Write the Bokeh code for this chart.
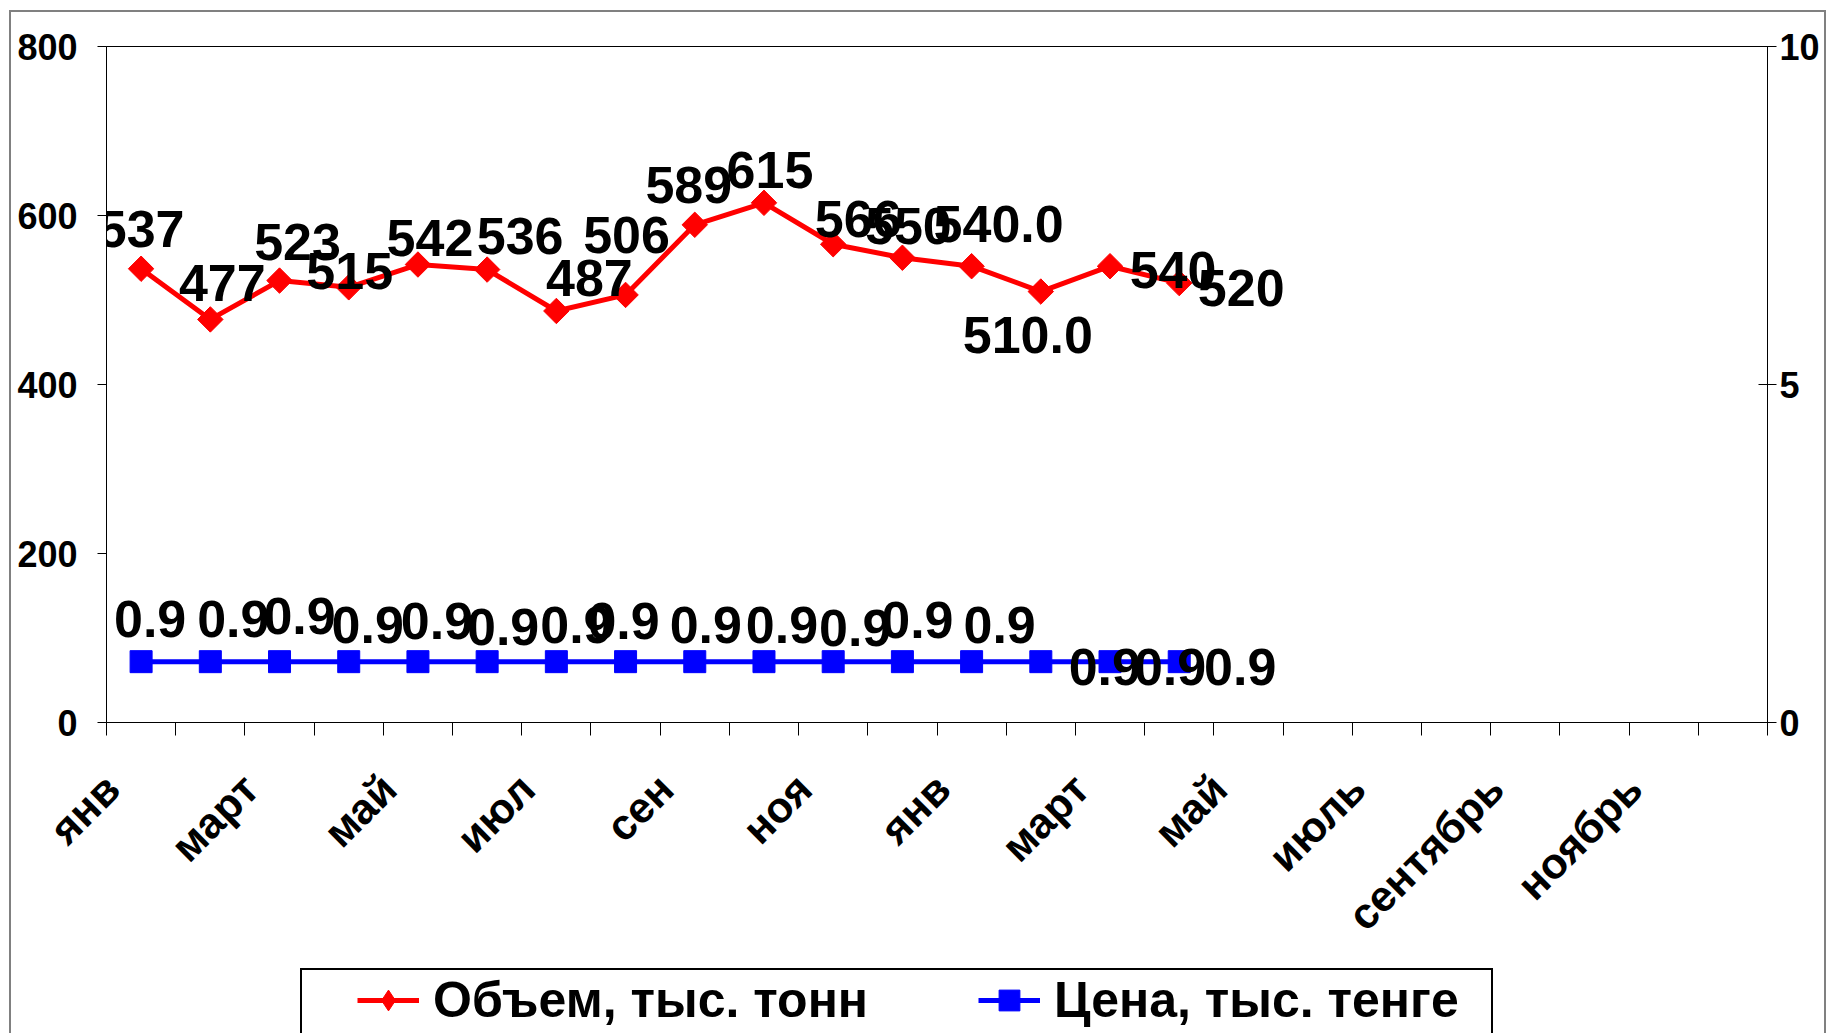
import math
from bokeh.plotting import figure
from bokeh.layouts import column
from bokeh.models import (LinearAxis, Range1d, FixedTicker, Legend, LegendItem,
                          ColumnDataSource)
from bokeh.core.properties import value
from bokeh.embed import file_html
from bokeh.resources import INLINE

# ---------------- data ----------------
tick_labels = ["янв", "март", "май", "июл", "сен", "ноя",
               "янв", "март", "май", "июль", "сентябрь", "ноябрь"]
n_categories = 24
volume = [537, 477, 523, 515, 542, 536, 487, 506, 589, 615, 566, 550, 540, 510, 540, 520]
volume_text = ["537", "477", "523", "515", "542", "536", "487", "506", "589", "615",
               "566", "550", "540.0", "510.0", "540", "520"]
price = [0.9, 0.9, 0.9, 0.9, 0.9, 0.9, 0.9, 0.9, 0.9, 0.9, 0.9, 0.9, 0.9, 0.9, 0.9, 0.9]
price_text = ["0.9", "0.9", "0.9", "0.9", "0.9", "0.9", "0.9", "0.9", "0.9", "0.9",
              "0.9", "0.9", "0.9", "0.9", "0.9", "0.9"]
left_ticks = [0, 200, 400, 600, 800]
right_ticks = [0, 5, 10]
series_names = ["Объем, тыс. тонн", "Цена, тыс. тенге"]

# ---------------- label placement (px) ----------------
vol_dx = [0, 12, 18, 1, 12, 33, 33, 1, -6, 6, 25, 6, 27, -13, 63, 62]
vol_dy = [-40, -36, -39, -16, -27, -34, -33, -60, -40, -33, -25, -32, -42, 43, 4, 5]
pr_dx = [9, 23, 20, 19, 19, 16, 20, -2, 11, 18, 22, 15, 28, 64, 60, 61]
pr_dy = [-43, -43, -46, -37, -41, -35, -37, -41, -37, -37, -34, -42, -37, 5, 5, 5]

FONT = "Liberation Sans"
RED = "#FF0000"
BLUE = "#0000FF"

W = 1835
H1, H2 = 965, 68

p = figure(width=W, height=H1, output_backend="svg", toolbar_location=None,
           x_range=Range1d(-0.5, n_categories - 0.5), y_range=Range1d(0, 800),
           x_axis_type=None, y_axis_type=None,
           min_border_left=106, min_border_right=68, min_border_top=46, min_border_bottom=243)
p.extra_y_ranges = {"price": Range1d(0, 10)}
p.outline_line_color = "black"
p.outline_line_width = 1
p.background_fill_color = "white"
p.border_fill_alpha = 0

# axes
yl = LinearAxis(ticker=FixedTicker(ticks=left_ticks))
yl.major_tick_out = 9
yl.major_tick_in = 0
yl.minor_tick_out = 0
yl.major_label_standoff = 20
yl.major_label_text_font = FONT
yl.major_label_text_font_style = "bold"
yl.major_label_text_font_size = "36px"
yl.major_label_text_color = "black"
yl.axis_line_color = "black"
p.add_layout(yl, "left")

yr = LinearAxis(y_range_name="price", ticker=FixedTicker(ticks=right_ticks))
yr.major_tick_out = 9
yr.major_tick_in = 9
yr.minor_tick_out = 0
yr.major_label_standoff = 3
yr.major_label_text_font = FONT
yr.major_label_text_font_style = "bold"
yr.major_label_text_font_size = "36px"
yr.major_label_text_color = "black"
yr.axis_line_color = "black"
p.add_layout(yr, "right")

label_shift = -0.42  # rotated labels end slightly left of category centre
label_pos = [i + label_shift for i in range(0, n_categories, 2)]
xb = LinearAxis(ticker=FixedTicker(ticks=label_pos,
                                   minor_ticks=[i - 0.5 for i in range(n_categories + 1)]))
xb.major_label_overrides = {pos: lab for pos, lab in zip(label_pos, tick_labels)}
xb.major_tick_out = 0
xb.major_tick_in = 0
xb.minor_tick_out = 13
xb.minor_tick_in = 0
xb.major_label_orientation = math.pi / 4
xb.major_label_standoff = 46
xb.major_label_text_font = FONT
xb.major_label_text_font_style = "bold"
xb.major_label_text_font_size = "43px"
xb.major_label_text_color = "black"
xb.axis_line_color = "black"
p.add_layout(xb, "below")

x_idx = list(range(len(volume)))
src_v = ColumnDataSource(dict(x=x_idx, y=volume, t=volume_text, dx=vol_dx, dy=vol_dy))
src_p = ColumnDataSource(dict(x=x_idx, y=price, t=price_text, dx=pr_dx, dy=pr_dy))

red_line = dict(line_color=RED, line_width=5)
red_mark = dict(marker="square", angle=math.pi / 4, size=18, fill_color=RED, line_color=RED)
red_key = dict(marker="diamond", size=27, fill_color=RED, line_color=RED)
blue_line = dict(line_color=BLUE, line_width=5)
blue_mark = dict(marker="square", size=22, fill_color=BLUE, line_color=BLUE)

p.line("x", "y", source=src_v, **red_line)
p.scatter("x", "y", source=src_v, **red_mark)
p.line("x", "y", source=src_p, y_range_name="price", **blue_line)
p.scatter("x", "y", source=src_p, y_range_name="price", **blue_mark)

p.text("x", "y", text="t", source=src_v, x_offset="dx", y_offset="dy",
       text_align="center", text_baseline="middle", text_font=value(FONT),
       text_font_style="bold", text_font_size="52px", text_color="black")
p.text("x", "y", text="t", source=src_p, x_offset="dx", y_offset="dy",
       text_align="center", text_baseline="middle", text_font=value(FONT),
       text_font_style="bold", text_font_size="52px", text_color="black",
       y_range_name="price")

# ---------------- legend strip ----------------
# same series, but the strip's ranges keep the marks themselves out of view;
# only the legend swatches are seen here
q = figure(width=W, height=H2, output_backend="svg", toolbar_location=None,
           x_range=Range1d(-0.5, n_categories - 0.5), y_range=Range1d(-3, -2),
           x_axis_type=None, y_axis_type=None,
           min_border_left=0, min_border_right=0, min_border_top=0, min_border_bottom=0)
q.outline_line_color = None
q.background_fill_alpha = 0
q.border_fill_alpha = 0
lr1 = q.line("x", "y", source=src_v, **red_line)
lr2 = q.scatter("x", "y", source=src_v, **red_key)
lb1 = q.line("x", "y", source=src_p, **blue_line)
lb2 = q.scatter("x", "y", source=src_p, **blue_mark)
legend = Legend(items=[LegendItem(label=series_names[0], renderers=[lr1, lr2]),
                       LegendItem(label=series_names[1], renderers=[lb1, lb2])],
                location=(251, 4), orientation="horizontal",
                glyph_width=62, glyph_height=52, label_height=52, label_width=431,
                label_standoff=14, spacing=110, padding=0, margin=0,
                label_text_font=FONT, label_text_font_style="bold",
                label_text_font_size="50px", label_text_color="black",
                border_line_alpha=0, background_fill_alpha=0)
q.add_layout(legend, "center")

layout = column(p, q, spacing=0)
# chart border and legend box lines (page decoration)
layout.styles = {
    "background-image": ", ".join(["linear-gradient(#808080, #808080)"] * 3
                                  + ["linear-gradient(#000000, #000000)"] * 3),
    "background-size": "2px 1100px, 1816px 2px, 2px 1100px, 1193px 2px, 2px 100px, 2px 100px",
    "background-position": "9px 10px, 9px 10px, 1824px 10px, 300px 968px, 300px 968px, 1491px 968px",
    "background-repeat": "no-repeat",
}

open("out.html", "w").write(file_html(layout, INLINE))
